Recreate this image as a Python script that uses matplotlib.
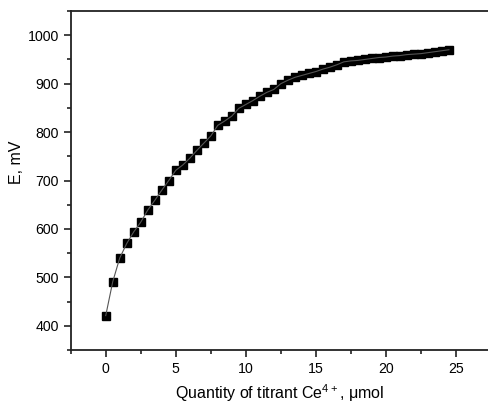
import matplotlib
matplotlib.use("Agg")
import matplotlib.pyplot as plt
from matplotlib.ticker import MultipleLocator

plt.rcParams['font.family'] = ['Liberation Sans', 'DejaVu Sans']
plt.rcParams['mathtext.default'] = 'regular'

quantity = [0, 0.5, 1, 1.5, 2, 2.5, 3, 3.5, 4, 4.5, 5, 5.5, 6, 6.5, 7, 7.5, 8, 8.5, 9, 9.5,
            10, 10.5, 11, 11.5, 12, 12.5, 13, 13.5, 14, 14.5, 15, 15.5, 16, 16.5, 17, 17.5,
            18, 18.5, 19, 19.5, 20, 20.5, 21, 21.5, 22, 22.5, 23, 23.5, 24, 24.5]
potential = [421, 491, 540, 570, 594, 614, 639, 659, 680, 700, 721, 732, 746, 762, 777, 792,
             814, 823, 833, 849, 857, 865, 874, 882, 888, 900, 907, 913, 917, 921, 925, 930,
             934, 939, 945, 947, 948, 950, 952, 954, 955, 957, 958, 960, 961, 962, 964, 966,
             968, 970]
x_ticks = [0, 5, 10, 15, 20, 25]
y_ticks = [400, 500, 600, 700, 800, 900, 1000]

fig = plt.figure(figsize=(4.88, 4.05), dpi=100)
ax = fig.add_axes([0.1449, 0.1358, 0.8551, 0.837])

ax.plot(quantity, potential, linestyle='none', marker='s', markersize=6.3,
        color='black', markeredgecolor='black', zorder=2)
ax.plot(quantity, potential, color='#555555', linewidth=0.8, zorder=3)

ax.set_xlim(-2.5, 27.29)
ax.set_ylim(350, 1050)
ax.set_xticks(x_ticks)
ax.set_yticks(y_ticks)
ax.xaxis.set_minor_locator(MultipleLocator(2.5))
ax.yaxis.set_minor_locator(MultipleLocator(50))
ax.tick_params(which='major', direction='out', length=5, width=1.2, labelsize=10.2,
               colors='#222222', labelcolor='black')
ax.tick_params(which='minor', direction='out', length=3, width=1.2, colors='#222222')
ax.tick_params(axis='x', which='both', top=False)
ax.tick_params(axis='y', which='both', right=False)

ax.spines['right'].set_visible(False)
for s in ['left', 'bottom', 'top']:
    ax.spines[s].set_linewidth(1.3)
    ax.spines[s].set_color('#222222')

ax.set_xlabel('Quantity of titrant Ce$^{4+}$, μmol', fontsize=11.5, labelpad=4.5)
ax.set_ylabel('E, mV', fontsize=11.5)
ax.yaxis.set_label_coords(-0.112, 0.555)

fig.savefig('out.png', dpi=100)
